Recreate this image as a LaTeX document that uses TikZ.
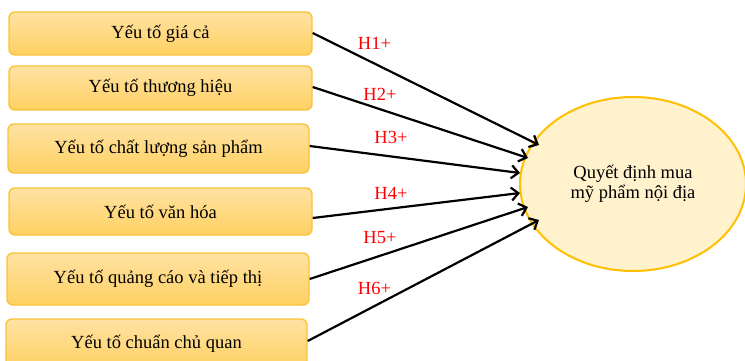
\documentclass[tikz,border=0pt]{standalone}
\usepackage{fontspec}
\setmainfont{Liberation Serif}
\usetikzlibrary{arrows.meta,shapes.geometric}
\definecolor{boxtop}{HTML}{FFE2A3}
\definecolor{boxbot}{HTML}{FFD162}
\definecolor{boxline}{HTML}{F9C33A}
\definecolor{ellfill}{HTML}{FFF2CC}
\definecolor{ellline}{HTML}{FFC000}
\definecolor{hred}{HTML}{FF0000}
\tikzset{
  factor/.style={rectangle, rounded corners=6pt, draw=boxline, line width=1.4pt,
    top color=boxtop, bottom color=boxbot, inner sep=0pt,
    font=\fontsize{18.5}{21}\selectfont, text=black},
  target/.style={ellipse, draw=ellline, line width=2pt, fill=ellfill, inner sep=0pt,
    minimum width=226pt, minimum height=174pt, align=center,
    font=\fontsize{18.5}{20.5}\selectfont},
  hyp/.style={text=hred, font=\fontsize{18.5}{21}\selectfont, inner sep=0pt},
  link/.style={line width=2.2pt, -{Straight Barb[length=7pt,width=13pt,line width=2.2pt]}}
}
\begin{document}
\begin{tikzpicture}[x=1pt,y=-1pt]
\useasboundingbox (0,0) rectangle (745,361);
\clip (0,0) rectangle (745,361);
\fill[white] (0,0) rectangle (745,361);
\node[factor, minimum width=303pt, minimum height=43pt] (b1) at (160.5,33.5) {Yếu tố giá cả};
\node[factor, minimum width=303pt, minimum height=44pt] (b2) at (160.5,88) {Yếu tố thương hiệu};
\node[factor, minimum width=301pt, minimum height=49pt] (b3) at (158.5,148.5) {Yếu tố chất lượng sản phẩm};
\node[factor, minimum width=303pt, minimum height=47pt] (b4) at (160.5,211.5) {Yếu tố văn hóa};
\node[factor, minimum width=302pt, minimum height=52pt] (b5) at (158,279) {Yếu tố quảng cáo và tiếp thị};
\node[factor, minimum width=301pt, minimum height=50pt] (b6) at (156.5,344) {Yếu tố chuẩn chủ quan};
\node[target] (q) at (633,184) {Quyết định mua\\mỹ phẩm nội địa};
\coordinate (t1) at (539,145);
\coordinate (t2) at (528,158);
\coordinate (t3) at (520,173);
\coordinate (t4) at (520,193);
\coordinate (t5) at (528,207);
\coordinate (t6) at (539,220);
\draw[link] ([yshift=0.5pt]b1.east) -- (t1);
\draw[link] ([yshift=1pt]b2.east) -- (t2);
\draw[link] ([yshift=2.5pt]b3.east) -- (t3);
\draw[link] ([yshift=-6.5pt]b4.east) -- (t4);
\draw[link] (b5.east) -- (t5);
\draw[link] ([yshift=3pt]b6.east) -- (t6);
\node[hyp] (h1) at (374.5,43) {H1+};
\node[hyp] (h2) at (380,94) {H2+};
\node[hyp] (h3) at (391,137.5) {H3+};
\node[hyp] (h4) at (391,193) {H4+};
\node[hyp] (h5) at (380,238) {H5+};
\node[hyp] (h6) at (374.5,288.5) {H6+};
\end{tikzpicture}
\end{document}
